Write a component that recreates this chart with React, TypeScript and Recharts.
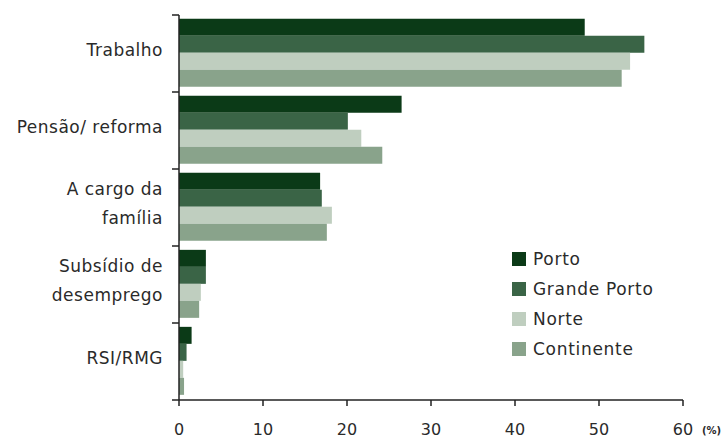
import React from 'react'
import { Bar, BarChart, XAxis, YAxis } from 'recharts'

const categories = ['Trabalho', 'Pensão/ reforma', 'A cargo da\nfamília', 'Subsídio de\ndesemprego', 'RSI/RMG']
const porto = [48.3, 26.5, 16.8, 3.2, 1.5]
const grandePorto = [55.4, 20.1, 17.0, 3.2, 0.9]
const norte = [53.7, 21.7, 18.2, 2.6, 0.5]
const continente = [52.7, 24.2, 17.6, 2.4, 0.6]
const xTicks = [0, 10, 20, 30, 40, 50, 60]

const series = [
  { key: 'porto', name: 'Porto', color: '#0b3a17' },
  { key: 'grandePorto', name: 'Grande Porto', color: '#3a6446' },
  { key: 'norte', name: 'Norte', color: '#bfcebf' },
  { key: 'continente', name: 'Continente', color: '#89a38b' },
]

const data = categories.map((name, i) => ({
  name,
  porto: porto[i],
  grandePorto: grandePorto[i],
  norte: norte[i],
  continente: continente[i],
}))

const W = 723
const H = 439
const TOP = 15
const BOTTOM = 39
const LEFT = 179
const RIGHT = 40
const band = (H - TOP - BOTTOM) / categories.length
const font = '"DejaVu Sans", sans-serif'
const textColor = '#2a2a2a'

function CategoryTick(props: any) {
  const { x, y, payload, index } = props
  const lines = String(payload.value).split('\n')
  const lineH = 29
  const startY = y - 4 - ((lines.length - 1) * lineH) / 2
  return (
    <g>
      <line x1={LEFT - 7} x2={LEFT} y1={y - band / 2} y2={y - band / 2} stroke="#222" strokeWidth={1.5} />
      {index === categories.length - 1 && (
        <line x1={LEFT - 7} x2={LEFT} y1={y + band / 2} y2={y + band / 2} stroke="#222" strokeWidth={1.5} />
      )}
      {lines.map((l, i) => (
        <text
          key={i}
          x={x - 8}
          y={startY + i * lineH}
          textAnchor="end"
          dominantBaseline="central"
          fill={textColor}
          fontSize={17}
          letterSpacing={0.5}
          fontFamily={font}
        >
          {l}
        </text>
      ))}
    </g>
  )
}

function ValueTick(props: any) {
  const { x, y, payload } = props
  return (
    <g>
      <text x={x} y={y + 27} textAnchor="middle" fill={textColor} fontSize={16} fontFamily={font}>
        {payload.value}
      </text>
      {payload.value === 60 && (
        <text x={x + 19} y={y + 26} textAnchor="start" fill={textColor} fontSize={10} fontWeight="bold" fontFamily={font}>
          (%)
        </text>
      )}
    </g>
  )
}

function LegendBox() {
  return (
    <div style={{ position: 'absolute', left: 512, top: 244, fontFamily: font, fontSize: 17, letterSpacing: 0.7, color: textColor }}>
      {series.map((s) => (
        <div key={s.key} style={{ display: 'flex', alignItems: 'center', height: 30 }}>
          <div style={{ width: 14, height: 14, background: s.color, marginRight: 7 }} />
          <span>{s.name}</span>
        </div>
      ))}
    </div>
  )
}

export default function App() {
  return (
    <div style={{ position: 'absolute', left: 0, top: 0, width: W, height: H, background: '#fff' }}>
      <BarChart
        width={W}
        height={H}
        data={data}
        layout="vertical"
        margin={{ top: TOP, right: RIGHT, bottom: 0, left: 0 }}
        barCategoryGap="5%"
        barGap={0}
      >
        <XAxis
          type="number"
          domain={[0, 60]}
          ticks={xTicks}
          height={BOTTOM}
          axisLine={{ stroke: '#222', strokeWidth: 1.5 }}
          tickLine={{ stroke: '#222', strokeWidth: 1.5 }}
          tickSize={6}
          tick={<ValueTick />}
        />
        <YAxis
          type="category"
          dataKey="name"
          width={LEFT}
          axisLine={{ stroke: '#222', strokeWidth: 1.5 }}
          tickLine={false}
          tick={<CategoryTick />}
          interval={0}
        />
        {series.map((s) => (
          <Bar key={s.key} dataKey={s.key} name={s.name} fill={s.color} isAnimationActive={false} />
        ))}
      </BarChart>
      <LegendBox />
    </div>
  )
}
